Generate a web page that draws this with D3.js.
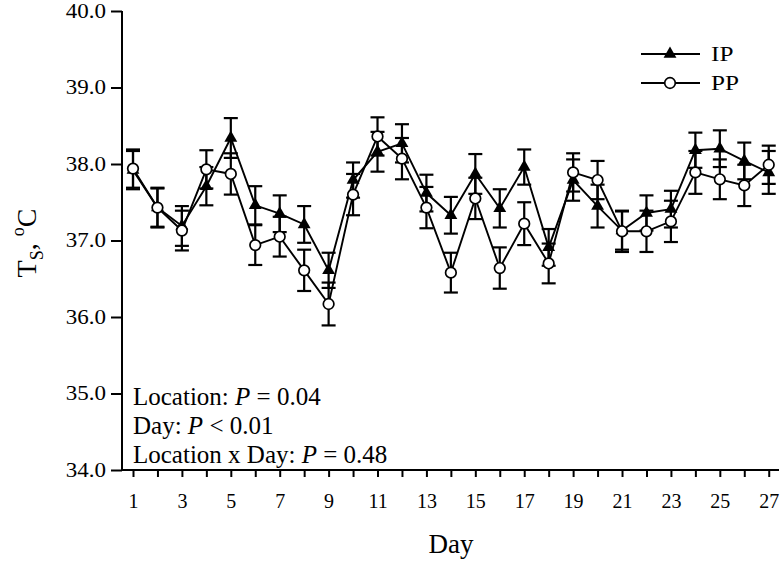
<!DOCTYPE html>
<html><head><meta charset="utf-8">
<script src="https://cdn.jsdelivr.net/npm/d3@7"></script>
<style>body{margin:0;background:#fff}svg{display:block}text{font-family:"Liberation Serif","Times New Roman",serif;fill:#000}</style>
</head><body><svg id="c" width="781" height="564"></svg>
<script>
const days = d3.range(1, 28);
const ipMean = [37.92,37.43,37.19,37.71,38.34,37.46,37.35,37.21,36.61,37.79,38.16,38.27,37.62,37.33,37.87,37.42,37.96,36.91,37.79,37.45,37.13,37.36,37.41,38.18,38.20,38.04,37.89];
const ipSE   = [0.25,0.25,0.26,0.25,0.26,0.25,0.24,0.24,0.23,0.23,0.26,0.25,0.24,0.24,0.26,0.25,0.23,0.24,0.27,0.28,0.25,0.23,0.24,0.23,0.24,0.24,0.28];
const ppMean = [37.94,37.43,37.13,37.93,37.87,36.94,37.05,36.61,36.17,37.60,38.36,38.07,37.43,36.58,37.55,36.64,37.22,36.70,37.89,37.79,37.12,37.12,37.25,37.89,37.80,37.72,37.99];
const ppSE   = [0.25,0.26,0.26,0.25,0.27,0.26,0.26,0.27,0.28,0.27,0.25,0.27,0.27,0.26,0.27,0.27,0.28,0.26,0.25,0.25,0.27,0.27,0.27,0.28,0.26,0.27,0.25];
const yTicks = [34,35,36,37,38,39,40];
const xTickLabels = [1,3,5,7,9,11,13,15,17,19,21,23,25,27];
const statLines = [["Location: ","P"," = 0.04"],["Day: ","P"," < 0.01"],["Location x Day: ","P"," = 0.48"]];
const seriesNames = ["IP","PP"];

const svg = d3.select("#c");
const x = d3.scaleLinear().domain([0.55, 27.42]).range([122, 779]);
const y = d3.scaleLinear().domain([34, 40]).range([470, 11]);

// axes
const yAxis = svg.append("g").attr("transform","translate(122,0)")
  .call(d3.axisLeft(y).tickValues(yTicks).tickFormat(d3.format(".1f")).tickSize(11).tickPadding(5));
const xAxis = svg.append("g").attr("transform","translate(0,470)")
  .call(d3.axisBottom(x).tickValues(days).tickSize(7).tickPadding(17)
    .tickFormat(d => xTickLabels.includes(d) ? d : ""));
[yAxis, xAxis].forEach(g => {
  g.select(".domain").attr("stroke","#000").attr("stroke-width",2);
  g.selectAll(".tick line").attr("stroke","#000").attr("stroke-width",2);
  g.selectAll("text").style("font-family",'"Liberation Serif",serif').style("font-size","20px").attr("fill","#000");
});
// slight horizontal widening of y tick labels, anchored at their right edge
yAxis.selectAll(".tick text").attr("transform", function(){ return `translate(-16,0) scale(1.15,1) translate(16,0)`; });
yAxis.select(".domain").attr("d","M0,470V11");
xAxis.select(".domain").attr("d","M122,0H779");

const series = [
  {name: seriesNames[0], mean: ipMean, se: ipSE, sym: "tri"},
  {name: seriesNames[1], mean: ppMean, se: ppSE, sym: "circ"}
];
const line = d3.line().x((d,i)=>x(days[i])).y(d=>y(d));

// error bars
series.forEach(s => {
  const g = svg.append("g");
  s.mean.forEach((m,i) => {
    const cx = x(days[i]);
    const y1 = y(m + s.se[i]), y0 = y(m - s.se[i]);
    g.append("line").attr("x1",cx).attr("x2",cx).attr("y1",y1).attr("y2",y0).attr("stroke","#000").attr("stroke-width",2.2);
    g.append("line").attr("x1",cx-7).attr("x2",cx+7).attr("y1",y1).attr("y2",y1).attr("stroke","#000").attr("stroke-width",2.2);
    g.append("line").attr("x1",cx-7).attr("x2",cx+7).attr("y1",y0).attr("y2",y0).attr("stroke","#000").attr("stroke-width",2.2);
  });
});
// lines
series.forEach(s => {
  svg.append("path").attr("d", line(s.mean)).attr("fill","none").attr("stroke","#000").attr("stroke-width",1.9);
});
const tri = d3.symbol().type(d3.symbolTriangle).size(72);
function drawSym(sel, sym, cx, cy){
  if (sym === "tri") sel.append("path").attr("d", tri()).attr("transform",`translate(${cx},${cy})`).attr("fill","#000");
  else sel.append("circle").attr("cx",cx).attr("cy",cy).attr("r",5.3).attr("fill","#fff").attr("stroke","#000").attr("stroke-width",1.7);
}
series.forEach(s => {
  const g = svg.append("g");
  s.mean.forEach((m,i) => drawSym(g, s.sym, x(days[i]), y(m)));
});

// legend
series.forEach((s,k) => {
  const ly = 54 + k*29;
  svg.append("line").attr("x1",641).attr("x2",700).attr("y1",ly).attr("y2",ly).attr("stroke","#000").attr("stroke-width",1.9);
  drawSym(svg, s.sym, 670, ly);
  svg.append("text").attr("transform",`translate(711,${ly+7}) scale(1.2,1)`).style("font-size","21px").text(s.name);
});

// stats
statLines.forEach((parts,k) => {
  const t = svg.append("text").attr("x",133).attr("y",405 + k*29).style("font-size","25px");
  t.append("tspan").text(parts[0]);
  t.append("tspan").style("font-style","italic").text(parts[1]);
  t.append("tspan").text(parts[2]);
});

// axis titles
svg.append("text").attr("x",451).attr("y",553).attr("text-anchor","middle").style("font-size","27px").text("Day");
const yl = svg.append("text").attr("transform","translate(36,243) rotate(-90)").attr("text-anchor","middle").style("font-size","28px");
yl.append("tspan").text("T");
yl.append("tspan").attr("dy",7).style("font-size","18px").text("S");
yl.append("tspan").attr("dy",-7).text(", ");
yl.append("tspan").attr("dy",-12).style("font-size","18px").text("o");
yl.append("tspan").attr("dy",12).text("C");
</script></body></html>
